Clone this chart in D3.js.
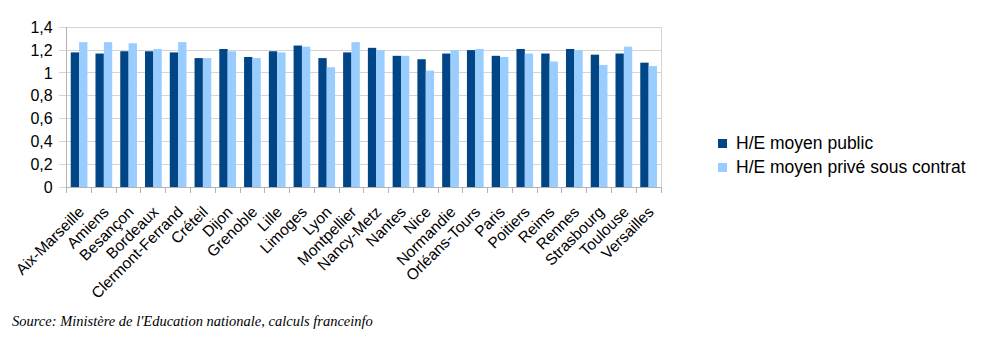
<!DOCTYPE html>
<html><head><meta charset="utf-8">
<script src="https://cdn.jsdelivr.net/npm/d3@7"></script>
<style>body{margin:0;background:#fff}svg{display:block}</style>
</head><body>
<script>
const categories = ["Aix-Marseille","Amiens","Besançon","Bordeaux","Clermont-Ferrand","Créteil","Dijon","Grenoble","Lille","Limoges","Lyon","Montpellier","Nancy-Metz","Nantes","Nice","Normandie","Orléans-Tours","Paris","Poitiers","Reims","Rennes","Strasbourg","Toulouse","Versailles"];
const seriesNames = ["H/E moyen public","H/E moyen privé sous contrat"];
const publicValues = [1.18,1.17,1.19,1.19,1.18,1.13,1.21,1.14,1.19,1.24,1.13,1.18,1.22,1.15,1.12,1.17,1.20,1.15,1.21,1.17,1.21,1.16,1.17,1.09];
const priveValues  = [1.27,1.27,1.26,1.21,1.27,1.13,1.19,1.13,1.18,1.23,1.05,1.27,1.20,1.15,1.02,1.20,1.21,1.14,1.17,1.10,1.20,1.07,1.23,1.06];
const yTicks = [0,0.2,0.4,0.6,0.8,1,1.2,1.4];
const colors = ["#004586","#99ccff"];
const sourceText = "Source: Ministère de l'Education nationale, calculs franceinfo";

const W=987,H=351;
const svg=d3.select("body").append("svg").attr("width",W).attr("height",H);
const L=66.7,R=661,T=27.3,B=187;
const x0=d3.scaleBand().domain(categories).range([L,R]).padding(0);
const bw=x0.bandwidth();
const x1=d3.scaleBand().domain([0,1]).range([(bw-16.7)/2,(bw+16.7)/2]).padding(0);
const y=d3.scaleLinear().domain([0,1.4]).range([B,T]);
const loc=d3.formatLocale({decimal:",",thousands:" ",grouping:[3],currency:["","€"]});
const fmt=loc.format("~g");
const font="'Liberation Sans', Arial, sans-serif";
const grid="#d4d4d4";

// grid
svg.append("g").selectAll("line").data(yTicks).join("line")
  .attr("x1",L-8).attr("x2",R).attr("y1",d=>y(d)).attr("y2",d=>y(d))
  .attr("stroke",grid).attr("stroke-width",1).attr("shape-rendering","crispEdges");
// y axis via d3
const yAxis=svg.append("g").attr("transform",`translate(${L-8},0)`)
  .call(d3.axisLeft(y).tickValues(yTicks).tickFormat(fmt).tickSize(0).tickPadding(6));
yAxis.select(".domain").remove();
yAxis.selectAll("text").attr("font-family",font).attr("font-size",16).attr("fill","#000");

// bars
const data=categories.map((c,i)=>({c,v:[publicValues[i],priveValues[i]]}));
const g=svg.append("g");
g.selectAll("g").data(data).join("g").attr("transform",d=>`translate(${x0(d.c)},0)`)
 .selectAll("rect").data(d=>d.v.map((v,k)=>({k,v}))).join("rect")
 .attr("x",d=>x1(d.k)).attr("width",x1.bandwidth())
 .attr("y",d=>y(d.v)).attr("height",d=>B-y(d.v)).attr("fill",d=>colors[d.k]);

// frame lines
svg.append("line").attr("x1",L).attr("x2",L).attr("y1",T).attr("y2",B).attr("stroke","#b3b3b3").attr("shape-rendering","crispEdges");
svg.append("line").attr("x1",R).attr("x2",R).attr("y1",T).attr("y2",B).attr("stroke",grid).attr("shape-rendering","crispEdges");
svg.append("line").attr("x1",L).attr("x2",R).attr("y1",B).attr("y2",B).attr("stroke","#b3b3b3").attr("shape-rendering","crispEdges");
// x ticks at band boundaries
const bounds=categories.map(c=>x0(c)).concat([R]);
svg.append("g").selectAll("line").data(bounds).join("line")
  .attr("x1",d=>d).attr("x2",d=>d).attr("y1",B).attr("y2",B+6)
  .attr("stroke","#b3b3b3").attr("shape-rendering","crispEdges");
// x labels
svg.append("g").selectAll("text").data(categories).join("text")
  .attr("transform",d=>`translate(${x0(d)+bw/2+6},${B+26}) rotate(-45)`)
  .attr("text-anchor","end").attr("font-family",font).attr("font-size",15.5).attr("fill","#000")
  .text(d=>d);

// legend
const lg=svg.append("g").attr("transform","translate(718,143)");
seriesNames.forEach((n,i)=>{
  lg.append("rect").attr("x",0).attr("y",i*24-4).attr("width",9).attr("height",9).attr("fill",colors[i]);
  lg.append("text").attr("x",18).attr("y",i*24+6).attr("font-family",font).attr("font-size",17.5).attr("fill","#000").text(n);
});

// source
svg.append("text").attr("x",12).attr("y",326).attr("font-family","'Liberation Serif', 'Times New Roman', serif")
  .attr("font-style","italic").attr("font-size",14.5).attr("fill","#000").text(sourceText);
</script>
</body></html>
